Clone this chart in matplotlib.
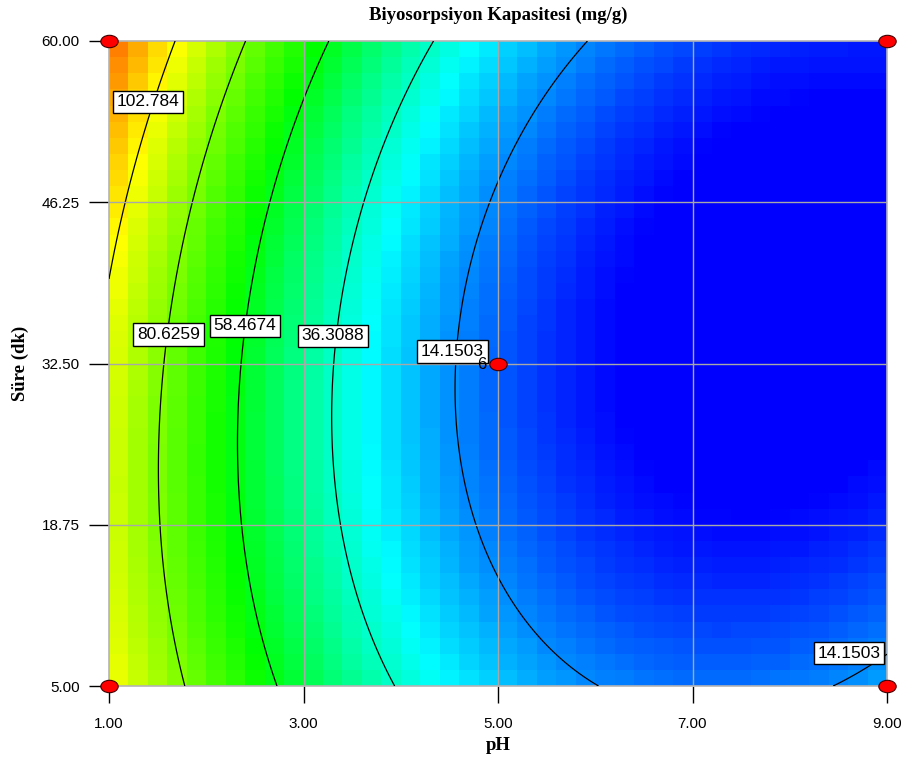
import numpy as np
import matplotlib.pyplot as plt
from matplotlib.colors import LinearSegmentedColormap, Normalize
from matplotlib.path import Path
from matplotlib.transforms import Affine2D

# fitted model, coded units: A = (pH - 5)/4, B = (sure - 32.5)/27.5
terms = ['1', 'A', 'B', 'AB', 'A2', 'B2', 'A2B', 'A3', 'A3B']
coefs = [8.25, -50.1, 1.55, -8.1, 37.59, 15.8, 0.09, -2.54, -2.54]

levels = [14.1503, 36.3088, 58.4674, 80.6259, 102.784]

# design points (pH, sure) ; centre point has 6 replicates
design_ph = [1, 1, 9, 9, 5]
design_t = [5, 60, 5, 60, 32.5]
center_reps = 6

xticks = [1, 3, 5, 7, 9]
yticks = [5, 18.75, 32.5, 46.25, 60]

# colour stops of the response scale
stop_vals = [-4, 29, 61, 102, 142]
stop_cols = ['#0000ff', '#00ffff', '#00ff00', '#ffff00', '#ff0000']

# where the contour labels sit (pH, sure, level index)
label_pos = [(1.40, 54.8, 4), (1.61, 35.0, 3), (2.40, 35.7, 2),
             (3.30, 34.85, 1), (4.53, 33.5, 0), (8.61, 7.8, 0)]


def model(ph, t):
    a = (ph - 5) / 4
    b = (t - 32.5) / 27.5
    basis = [np.ones_like(a), a, b, a*b, a*a, b*b, a*a*b, a**3, a**3*b]
    return sum(c * f for c, f in zip(coefs, basis))


lo, hi = stop_vals[0], stop_vals[-1]
cmap = LinearSegmentedColormap.from_list(
    'de', [((v - lo) / (hi - lo), c) for v, c in zip(stop_vals, stop_cols)])
norm = Normalize(vmin=lo, vmax=hi)

fig = plt.figure(figsize=(9.08, 7.66), dpi=100)
ax = fig.add_axes([109/908, 80/766, 778/908, 645/766])

# coarse coloured cells
xe = np.linspace(1, 9, 41)
ye = np.linspace(5, 60, 41)
xc = (xe[:-1] + xe[1:]) / 2
yc = (ye[:-1] + ye[1:]) / 2
XC, YC = np.meshgrid(xc, yc)
ax.pcolormesh(xe, ye, model(XC, YC), cmap=cmap, norm=norm, shading='flat')

# contour lines on a fine grid
xf = np.linspace(1, 9, 300)
yf = np.linspace(5, 60, 300)
XF, YF = np.meshgrid(xf, yf)
ax.contour(XF, YF, model(XF, YF), levels=levels, colors='black',
           linewidths=0.9, zorder=3)

for px, py, k in label_pos:
    ax.text(px, py, f'{levels[k]:g}', fontsize=12.5, family='Liberation Sans',
            ha='center', va='center', zorder=5,
            bbox=dict(boxstyle='square,pad=0.22', fc='white', ec='black', lw=1))

# grid
for v in xticks[1:-1]:
    ax.axvline(v, color='#a8a8a8', lw=1, zorder=4)
for v in yticks[1:-1]:
    ax.axhline(v, color='#a8a8a8', lw=1, zorder=4)

# design points as red ellipses
ell = Path.unit_circle().transformed(Affine2D().scale(1.4, 1.0))
ax.plot(design_ph, design_t, linestyle='none', marker=ell, markersize=12.5,
        mfc='#ff0000', mec='#400000', mew=0.8, clip_on=False, zorder=10)
ax.annotate(str(center_reps), (design_ph[-1], design_t[-1]),
            xytext=(-12, -1), textcoords='offset points', ha='center',
            va='center', fontsize=12, family='Liberation Sans', zorder=11)

ax.set_xlim(1, 9)
ax.set_ylim(5, 60)
ax.set_xticks(xticks)
ax.set_xticklabels([f'{v:.2f}' for v in xticks])
ax.set_yticks(yticks)
ax.set_yticklabels([f'{v:.2f}' for v in yticks])
ax.tick_params(axis='y', length=14.5, width=1, pad=6.5, labelsize=11,
               labelfontfamily='Liberation Sans')
ax.tick_params(axis='x', length=12, width=1, pad=10, labelsize=11,
               labelfontfamily='Liberation Sans')
for s in ax.spines.values():
    s.set_color('#b4b4b4')
    s.set_linewidth(1.2)

ax.set_xlabel('pH', fontsize=13.5, fontweight='bold', family='Liberation Serif',
              labelpad=5)
ax.set_ylabel('Süre (dk)', fontsize=13.5, fontweight='bold',
              family='Liberation Serif', labelpad=9)
ax.set_title('Biyosorpsiyon Kapasitesi (mg/g)', fontsize=13.5,
             fontweight='bold', family='Liberation Serif', pad=15)

fig.savefig('out.png', dpi=100)
